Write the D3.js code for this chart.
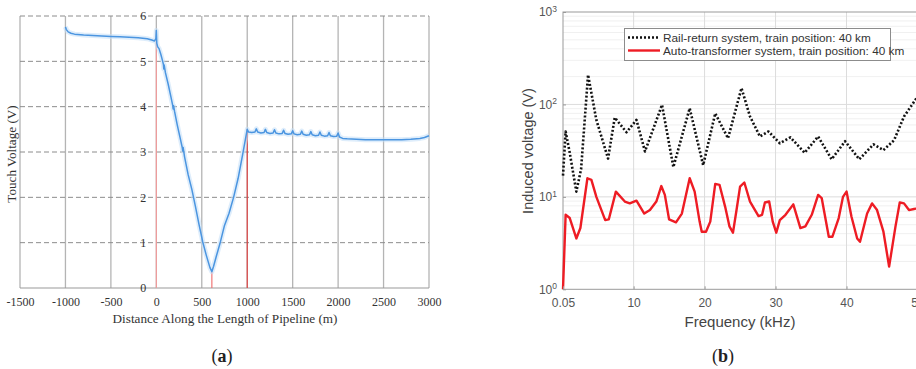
<!DOCTYPE html>
<html>
<head>
<meta charset="utf-8">
<script src="https://cdn.jsdelivr.net/npm/d3@7"></script>
<style>
  html, body { margin: 0; padding: 0; background: #fff; }
  svg { display: block; overflow: hidden; }
</style>
</head>
<body>
<svg id="chart" width="916" height="369"></svg>
<script>
// ---- panel (a): touch voltage along pipeline ----
const distance = [
  -1000, -990, -970, -940, -900, -800, -700, -600, -500, -400,
  -300, -200, -100, -50, -20, -5, 0, 5, 15, 30,
  50, 70, 78, 82, 86, 100, 130, 160, 180, 185,
  190, 200, 230, 260, 285, 290, 295, 310, 350, 390,
  430, 470, 500, 510, 550, 590, 611, 630, 660, 700,
  750, 800, 850, 900, 950, 1000,
  1015, 1050, 1085, 1100, 1115, 1150, 1185, 1200, 1215, 1250,
  1285, 1300, 1315, 1350, 1385, 1400, 1415, 1450, 1485, 1500,
  1515, 1550, 1585, 1600, 1615, 1650, 1685, 1700, 1715, 1750,
  1785, 1800, 1815, 1850, 1885, 1900, 1915, 1950, 1985, 2000,
  2015, 2050, 2100, 2200, 2300, 2400, 2500, 2600, 2700, 2800,
  2900, 2950, 3000
];
const touchVoltage = [
  5.76, 5.70, 5.65, 5.62, 5.60, 5.58, 5.57, 5.56, 5.55, 5.54,
  5.53, 5.52, 5.50, 5.47, 5.45, 5.50, 5.68, 5.40, 5.32, 5.28,
  5.15, 5.00, 4.93, 4.83, 4.92, 4.75, 4.50, 4.22, 4.03, 3.95,
  4.02, 3.90, 3.60, 3.33, 3.10, 3.02, 3.10, 2.90, 2.50, 2.18,
  1.80, 1.40, 1.12, 1.02, 0.72, 0.45, 0.36, 0.48, 0.70, 0.98,
  1.38, 1.65, 2.00, 2.42, 2.95, 3.50,
  3.44, 3.43, 3.44, 3.51, 3.44, 3.42, 3.43, 3.50, 3.43, 3.41,
  3.42, 3.49, 3.42, 3.40, 3.41, 3.48, 3.41, 3.39, 3.40, 3.47,
  3.40, 3.38, 3.39, 3.46, 3.39, 3.37, 3.38, 3.45, 3.38, 3.36,
  3.37, 3.44, 3.37, 3.35, 3.36, 3.43, 3.36, 3.34, 3.35, 3.42,
  3.33, 3.30, 3.29, 3.28, 3.27, 3.27, 3.27, 3.27, 3.27, 3.28,
  3.30, 3.32, 3.36
];
// red marker stems (position, top value, colour)
const stemDistance = [0, 611, 1000];
const stemTop = [5.68, 0.36, 3.50];
const stemColor = ["#f59a9a", "#ef6a6a", "#e03a3a"];
const distTicks = [-1500, -1000, -500, 0, 500, 1000, 1500, 2000, 2500, 3000];
const voltTicks = [0, 1, 2, 3, 4, 5, 6];

// ---- panel (b): induced voltage spectrum ----
const freqRail = [
  0.05, 0.42, 1.0, 1.93, 2.6, 3.58, 4.75, 6.4, 7.34, 9.0,
  10.4, 11.6, 14.0, 15.6, 17.9, 19.8, 21.5, 23.3, 25.2, 26.4,
  27.8, 29.0, 30.6, 32.1, 34.1, 36.0, 37.9, 39.8, 41.8, 43.8,
  45.2, 46.7, 48.1, 49.7, 50
];
const voltRail = [
  17, 51, 30, 11.4, 20, 209, 68, 26, 72, 50,
  68, 31, 99, 21, 91, 22, 80, 43, 150, 74,
  45, 51, 38, 44, 30, 45, 25.5, 40, 25.5, 37,
  32, 41, 74, 112, 120
];
const freqAuto = [
  0.05, 0.42, 1.0, 1.93, 2.5, 3.49, 4.05, 4.75, 6.0, 6.5,
  7.5, 8.76, 9.46, 10.4, 11.5, 12.3, 13.2, 13.9, 14.4, 15.0,
  15.97, 16.8, 17.9, 18.6, 19.3, 19.6, 20.2, 20.8, 21.5, 22.1,
  22.9, 23.5, 24.0, 24.5, 25.0, 25.6, 26.4, 27.6, 28.1, 28.5,
  29.1, 29.6, 30.1, 30.6, 31.4, 32.5, 33.5, 34.2, 35.1, 36.0,
  36.5, 37.5, 38.0, 38.9, 39.5, 40.0, 40.7, 41.5, 41.9, 42.9,
  43.6, 44.3, 45.2, 46.0, 46.9, 47.5, 48.1, 48.8, 49.5, 50
];
const voltAuto = [
  1.0, 6.4, 5.9, 3.55, 4.6, 15.9, 15.3, 10, 5.6, 5.7,
  11.4, 8.9, 8.5, 9.1, 6.6, 7.2, 8.9, 13.1, 10.5, 5.7,
  5.3, 6.6, 15.9, 11.4, 5.4, 4.2, 4.2, 5.4, 13.8, 13.5,
  7.8, 4.8, 4.1, 7.2, 12.9, 14.3, 8.9, 6.2, 6.4, 8.7,
  8.9, 5.4, 4.1, 5.6, 6.4, 8.3, 4.6, 4.8, 6.4, 10.5,
  9.7, 3.7, 3.7, 5.9, 10, 11.4, 6.1, 3.55, 3.27, 6.6,
  8.5, 7.2, 4.2, 1.76, 4.8, 8.7, 8.5, 7.2, 7.4, 7.5
];
const freqTicks = [0.05, 10, 20, 30, 40, 50];
const legendLabels = [
  "Rail-return system, train position: 40 km",
  "Auto-transformer system, train position: 40 km"
];

const svg = d3.select("#chart");

// ================= panel (a) =================
const serif = "'Liberation Serif', 'Times New Roman', serif";
const xA = d3.scaleLinear([-1500, 3000], [20, 429]);
const yA = d3.scaleLinear([0, 6], [288, 16]);
const gA = svg.append("g");

// vertical solid grid
gA.selectAll("line.vg").data(distTicks).join("line")
  .attr("x1", d => xA(d)).attr("x2", d => xA(d))
  .attr("y1", yA(6)).attr("y2", yA(0))
  .attr("stroke", "#b4b4b4").attr("stroke-width", 1.3);

// horizontal dashed grid
gA.selectAll("line.hg").data(voltTicks.filter(d => d > 0)).join("line")
  .attr("x1", xA(-1500)).attr("x2", xA(3000))
  .attr("y1", d => yA(d)).attr("y2", d => yA(d))
  .attr("stroke", "#8c8c8c").attr("stroke-width", 1)
  .attr("stroke-dasharray", "5,3");

// bottom axis line
gA.append("line")
  .attr("x1", xA(-1500)).attr("x2", xA(3000))
  .attr("y1", yA(0)).attr("y2", yA(0))
  .attr("stroke", "#9a9a9a").attr("stroke-width", 1.2);

// red stems
gA.selectAll("line.stem").data(stemDistance).join("line")
  .attr("x1", d => xA(d)).attr("x2", d => xA(d))
  .attr("y1", (d, i) => yA(stemTop[i])).attr("y2", yA(0))
  .attr("stroke", (d, i) => stemColor[i]).attr("stroke-width", 1.1);

// blue curve with soft glow
const lineA = d3.line()
  .x((d, i) => xA(distance[i]))
  .y((d, i) => yA(touchVoltage[i]));
gA.append("path").attr("d", lineA(distance))
  .attr("fill", "none").attr("stroke", "#c3def7").attr("stroke-width", 5)
  .attr("stroke-opacity", 0.55).attr("stroke-linejoin", "round");
gA.append("path").attr("d", lineA(distance))
  .attr("fill", "none").attr("stroke", "#4b95e0").attr("stroke-width", 1.5)
  .attr("stroke-linejoin", "round");

// x tick labels
gA.append("g")
  .attr("transform", `translate(0,${yA(0)})`)
  .call(d3.axisBottom(xA).tickValues(distTicks).tickSize(0).tickPadding(9).tickFormat(d => String(d)))
  .call(g => g.select(".domain").remove())
  .call(g => g.selectAll("text").attr("font-family", serif).attr("font-size", 12).attr("fill", "#333"));

// y tick labels at x = 0
gA.append("g")
  .attr("transform", `translate(${xA(0)},0)`)
  .call(d3.axisLeft(yA).tickValues(voltTicks).tickSize(0).tickPadding(10).tickFormat(d => String(d)))
  .call(g => g.select(".domain").remove())
  .call(g => g.selectAll("text").attr("font-family", serif).attr("font-size", 12).attr("fill", "#333"));

gA.append("text")
  .attr("x", 225).attr("y", 323)
  .attr("text-anchor", "middle")
  .attr("font-family", serif).attr("font-size", 13.2).attr("fill", "#333")
  .text("Distance Along the Length of Pipeline (m)");

gA.append("text")
  .attr("transform", "translate(16,154) rotate(-90)")
  .attr("text-anchor", "middle")
  .attr("font-family", serif).attr("font-size", 13.2).attr("fill", "#333")
  .text("Touch Voltage (V)");

const capA = gA.append("text")
  .attr("x", 222).attr("y", 362)
  .attr("text-anchor", "middle")
  .attr("font-family", serif).attr("font-size", 18).attr("fill", "#222");
capA.append("tspan").text("(");
capA.append("tspan").attr("font-weight", "bold").text("a");
capA.append("tspan").text(")");

// ================= panel (b) =================
const sans = "'Liberation Sans', Arial, sans-serif";
const xB = d3.scaleLinear([0.05, 50], [563, 917.5]);
const yB = d3.scaleLog([1, 1000], [289.3, 12]);
const gB = svg.append("g");

// minor log grid
const minorVals = [];
[1, 10, 100].forEach(dec => { for (let k = 2; k <= 9; k++) minorVals.push(dec * k); });
gB.selectAll("line.mg").data(minorVals).join("line")
  .attr("x1", xB(0.05)).attr("x2", xB(50))
  .attr("y1", d => yB(d)).attr("y2", d => yB(d))
  .attr("stroke", "#ececec").attr("stroke-width", 0.8);

// major grid
gB.selectAll("line.myg").data([10, 100]).join("line")
  .attr("x1", xB(0.05)).attr("x2", xB(50))
  .attr("y1", d => yB(d)).attr("y2", d => yB(d))
  .attr("stroke", "#dcdcdc").attr("stroke-width", 1);
gB.selectAll("line.mxg").data(freqTicks.slice(1)).join("line")
  .attr("x1", d => xB(d)).attr("x2", d => xB(d))
  .attr("y1", yB(1)).attr("y2", yB(1000))
  .attr("stroke", "#dcdcdc").attr("stroke-width", 1);

// frame
gB.append("rect")
  .attr("x", xB(0.05)).attr("y", yB(1000))
  .attr("width", xB(50) - xB(0.05)).attr("height", yB(1) - yB(1000))
  .attr("fill", "none").attr("stroke", "#9a9a9a").attr("stroke-width", 1);

// series
const lineRail = d3.line()
  .x((d, i) => xB(freqRail[i]))
  .y((d, i) => yB(voltRail[i]));
gB.append("path").attr("d", lineRail(freqRail))
  .attr("fill", "none").attr("stroke", "#111").attr("stroke-width", 2.6)
  .attr("stroke-dasharray", "2,2").attr("stroke-linejoin", "round");

const lineAuto = d3.line()
  .x((d, i) => xB(freqAuto[i]))
  .y((d, i) => yB(voltAuto[i]));
gB.append("path").attr("d", lineAuto(freqAuto))
  .attr("fill", "none").attr("stroke", "#ee1c24").attr("stroke-width", 2.4)
  .attr("stroke-linejoin", "round");

// axes
gB.append("g")
  .attr("transform", `translate(0,${yB(1)})`)
  .call(d3.axisBottom(xB).tickValues(freqTicks).tickSize(-3).tickPadding(9)
    .tickFormat(d => d === 0.05 ? "0.05" : String(d)))
  .call(g => g.select(".domain").remove())
  .call(g => g.selectAll("line").attr("stroke", "#9a9a9a"))
  .call(g => g.selectAll("text").attr("font-family", sans).attr("font-size", 12).attr("fill", "#555"));

gB.append("g")
  .attr("transform", `translate(${xB(0.05)},0)`)
  .call(d3.axisLeft(yB).tickValues([1, 10, 100, 1000]).tickSize(-3).tickPadding(6))
  .call(g => g.select(".domain").remove())
  .call(g => g.selectAll("line").attr("stroke", "#9a9a9a"))
  .call(g => g.selectAll("text")
    .attr("font-family", sans).attr("font-size", 12).attr("fill", "#555")
    .each(function(d) {
      const t = d3.select(this);
      t.text("10");
      t.append("tspan").attr("dy", "-0.55em").attr("font-size", 8.5).text(Math.round(Math.log10(d)));
    }));

gB.append("text")
  .attr("x", 740).attr("y", 327)
  .attr("text-anchor", "middle")
  .attr("font-family", sans).attr("font-size", 15).attr("fill", "#444")
  .text("Frequency (kHz)");

gB.append("text")
  .attr("transform", "translate(533,151) rotate(-90)")
  .attr("text-anchor", "middle")
  .attr("font-family", sans).attr("font-size", 14.5).attr("fill", "#444")
  .text("Induced voltage (V)");

// legend
const leg = gB.append("g");
leg.append("rect")
  .attr("x", 624.5).attr("y", 28.5).attr("width", 266).attr("height", 32)
  .attr("fill", "#fff").attr("stroke", "#8c8c8c").attr("stroke-width", 1);
leg.append("line")
  .attr("x1", 628).attr("x2", 660).attr("y1", 37.5).attr("y2", 37.5)
  .attr("stroke", "#111").attr("stroke-width", 2.4).attr("stroke-dasharray", "2,2");
leg.append("line")
  .attr("x1", 628).attr("x2", 660).attr("y1", 50.5).attr("y2", 50.5)
  .attr("stroke", "#ee1c24").attr("stroke-width", 2.4);
leg.selectAll("text").data(legendLabels).join("text")
  .attr("x", 663).attr("y", (d, i) => 41.8 + i * 13)
  .attr("font-family", sans).attr("font-size", 11.8).attr("fill", "#333")
  .text(d => d);

const capB = gB.append("text")
  .attr("x", 723).attr("y", 362)
  .attr("text-anchor", "middle")
  .attr("font-family", serif).attr("font-size", 18).attr("fill", "#222");
capB.append("tspan").text("(");
capB.append("tspan").attr("font-weight", "bold").text("b");
capB.append("tspan").text(")");
</script>
</body>
</html>
